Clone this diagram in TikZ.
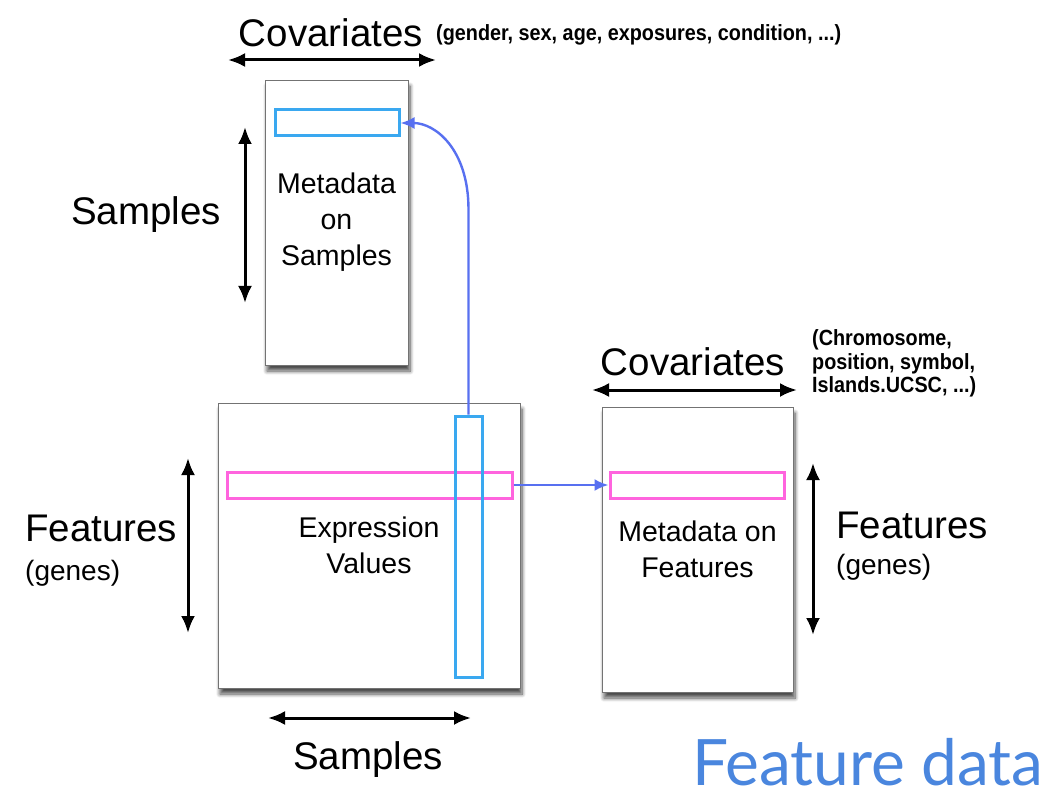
\documentclass[tikz,border=0pt]{standalone}
\usepackage{fontspec}
\setmainfont{Liberation Sans}
\newfontfamily\notefont{Liberation Sans}[FakeStretch=0.9]
\newfontfamily\titlefont{Lato}
\usepackage{xcolor}
\usepackage{tikz}
\usetikzlibrary{arrows.meta,shadows.blur}

\definecolor{sampleblue}{RGB}{58,168,240}
\definecolor{featurepink}{RGB}{255,100,222}
\definecolor{linkblue}{RGB}{88,112,240}
\definecolor{titleblue}{RGB}{74,134,222}

\tikzset{
  table/.style={draw=black!55, line width=0.9pt, fill=white, align=center,
    font=\fontsize{28.5}{36}\selectfont,
    blur shadow={shadow xshift=2pt, shadow yshift=-6pt, shadow blur radius=4pt,
      shadow blur steps=8, shadow opacity=70}},
  samplebar/.style={draw=sampleblue, line width=3pt, inner sep=0pt},
  featurebar/.style={draw=featurepink, line width=3pt, inner sep=0pt},
  link/.style={-{Latex[length=14pt,width=12pt]}, linkblue, line width=2.4pt},
  measure/.style={{Latex[length=17pt,width=14pt]}-{Latex[length=17pt,width=14pt]}, line width=3pt},
  big/.style={font=\fontsize{38.5}{44}\selectfont, inner sep=0pt},
  mid/.style={font=\fontsize{28}{34}\selectfont, inner sep=0pt},
  note/.style={font=\notefont\bfseries\fontsize{22}{23.5}\selectfont, align=left, inner sep=0pt}
}

\begin{document}
\begin{tikzpicture}[x=10pt,y=-10pt]
  \useasboundingbox (0,0) rectangle (105.8,80.5);

  % the three tables
  \node[table, minimum width=143pt, minimum height=285pt] (sampmeta) at (33.65,22.25) {Metadata\\on\\Samples};
  \node[table, minimum width=302pt, minimum height=285pt] (exprs) at (36.9,54.55) {Expression\\Values};
  \node[table, minimum width=191pt, minimum height=285pt] (featmeta) at (69.75,54.95) {Metadata on\\Features};

  % one sample, one feature
  \node[samplebar, minimum width=124pt, minimum height=26pt] (samplerow) at (33.7,12.3) {};
  \node[featurebar, minimum width=285pt, minimum height=26pt] (featurerow) at (36.95,48.5) {};
  \node[samplebar, minimum width=27pt, minimum height=261pt] (samplecol) at (46.85,54.65) {};
  \node[featurebar, minimum width=174pt, minimum height=26pt] (featureentry) at (69.7,48.5) {};

  \draw[link] (samplecol.north) -- ++(0,-20.5) .. controls +(0,-6) and +(3.5,0) .. (samplerow.east);
  \draw[link] (featurerow.east) -- (featureentry.west);

  % dimensions
  \coordinate (covS-w) at (22.8,6.0);
  \coordinate (covS-e) at (43.6,6.0);
  \coordinate (sampL-n) at (24.5,12.7);
  \coordinate (sampL-s) at (24.5,30.3);
  \coordinate (featL-n) at (18.8,45.8);
  \coordinate (featL-s) at (18.8,63.3);
  \coordinate (sampB-w) at (26.8,71.8);
  \coordinate (sampB-e) at (47.1,71.8);
  \coordinate (covF-w) at (59.2,39.0);
  \coordinate (covF-e) at (79.7,39.0);
  \coordinate (featR-n) at (81.3,46.3);
  \coordinate (featR-s) at (81.3,63.5);

  \draw[measure] (covS-w) -- (covS-e);
  \draw[measure] (sampL-n) -- (sampL-s);
  \draw[measure] (featL-n) -- (featL-s);
  \draw[measure] (sampB-w) -- (sampB-e);
  \draw[measure] (covF-w) -- (covF-e);
  \draw[measure] (featR-n) -- (featR-s);

  % labels
  \node[big] (covSlabel) at (33.1,3.3) {Covariates};
  \node[note, anchor=west] (covSnote) at (43.6,3.5) {(gender, sex, age, exposures, condition, ...)};
  \node[big] (sampLlabel) at (14.6,21.5) {Samples};
  \node[big, anchor=west] (featLlabel) at (2.5,52.8) {Features};
  \node[mid, anchor=west] (genesL) at (2.5,57.3) {(genes)};
  \node[big] (sampBlabel) at (36.8,76.0) {Samples};
  \node[big] (covFlabel) at (69.3,36.2) {Covariates};
  \node[note, anchor=west] (covFnote) at (81.2,36.35) {(Chromosome,\\position, symbol,\\Islands.UCSC, ...)};
  \node[big, anchor=west] (featRlabel) at (83.6,52.5) {Features};
  \node[mid, anchor=west] (genesR) at (83.6,56.7) {(genes)};

  \node[font=\titlefont\fontsize{64}{72}\selectfont, text=titleblue, inner sep=0pt, anchor=west] (title) at (69.2,76.2) {Feature data};
\end{tikzpicture}
\end{document}
